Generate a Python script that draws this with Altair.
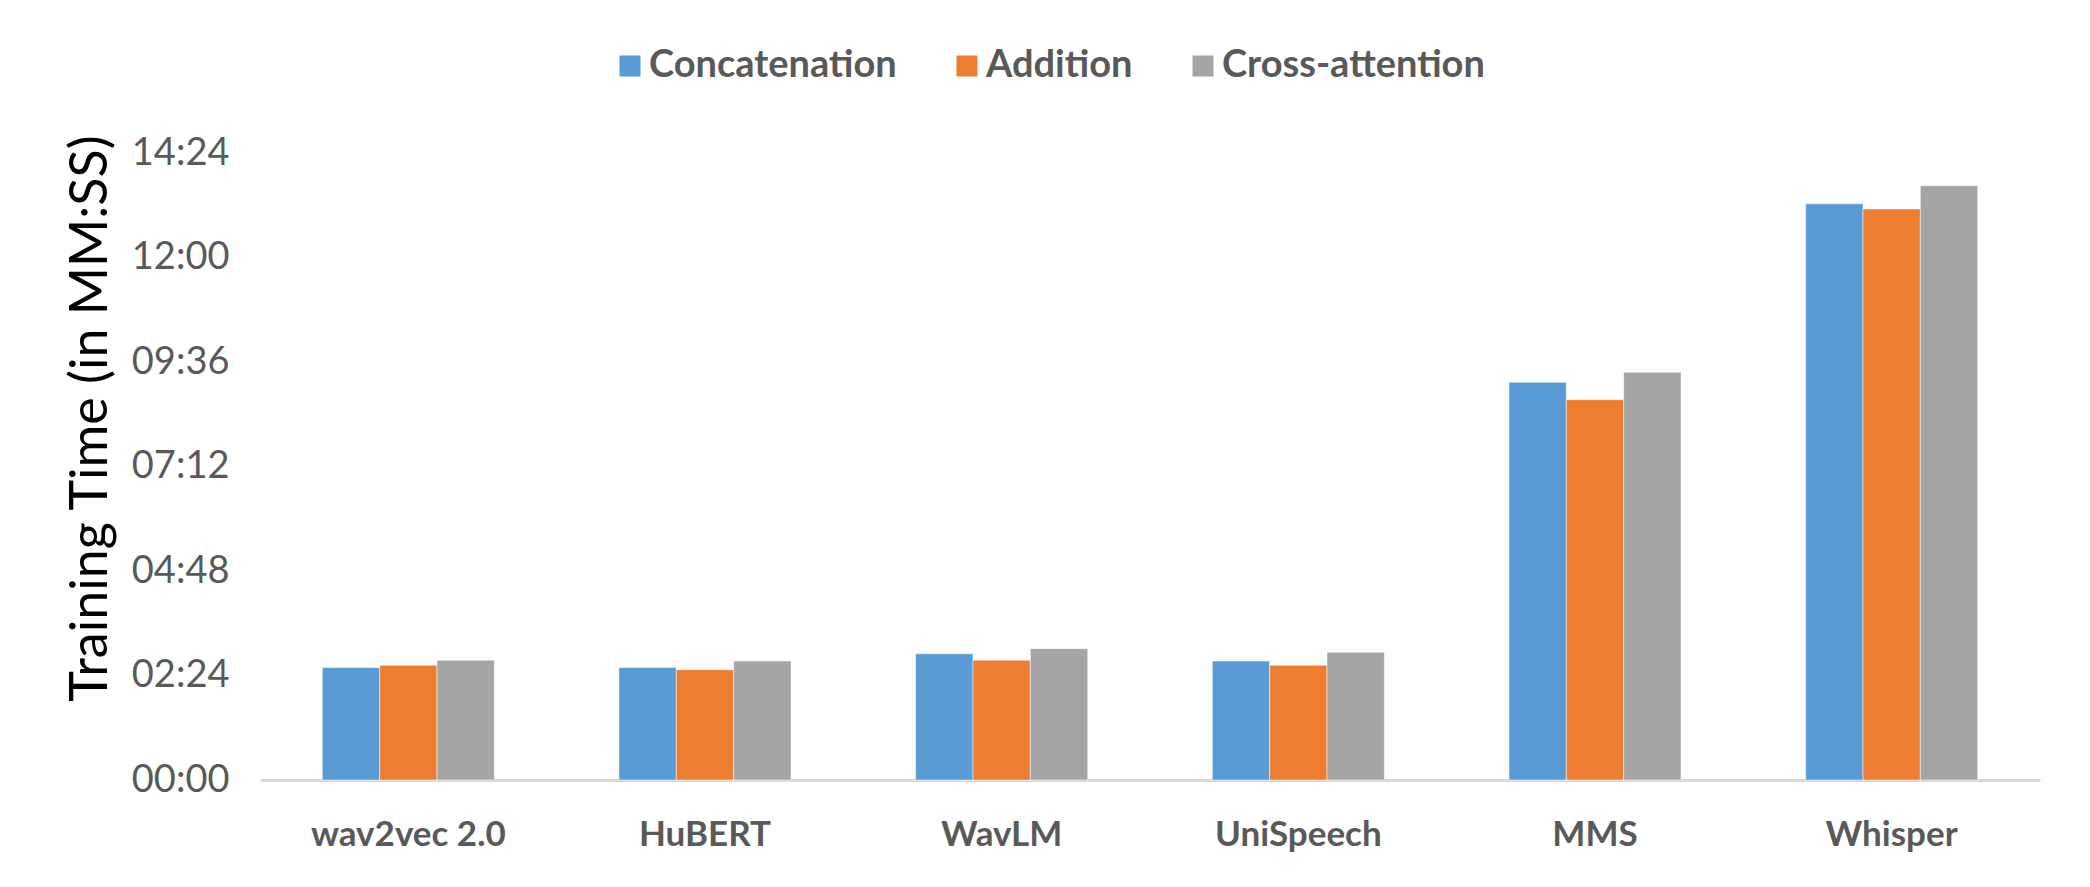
import altair as alt
import pandas as pd

models = ["wav2vec 2.0", "HuBERT", "WavLM", "UniSpeech", "MMS", "Whisper"]
methods = ["Concatenation", "Addition", "Cross-attention"]
# training time in seconds
concat = [155, 155, 174, 164, 548, 794]
addition = [158, 152, 165, 158, 524, 787]
cross = [165, 164, 181, 176, 562, 819]
colors = ["#5B9BD5", "#ED7D31", "#A5A5A5"]
y_ticks = [0, 144, 288, 432, 576, 720, 864]

rows = []
for i, m in enumerate(models):
    for meth, vals in zip(methods, [concat, addition, cross]):
        rows.append({"model": m, "method": meth, "seconds": vals[i]})
df = pd.DataFrame(rows)

FONT = "Lato"
TXT = "#595959"

label_expr = (
    "(floor(datum.value/60) < 10 ? '0' : '') + floor(datum.value/60) + ':' + "
    "((datum.value % 60) < 10 ? '0' : '') + (datum.value % 60)"
)

chart = (
    alt.Chart(df)
    .mark_bar(stroke="white", strokeWidth=0.5)
    .encode(
        x=alt.X(
            "model:N",
            sort=models,
            scale=alt.Scale(paddingInner=0.42, paddingOuter=0.21),
            axis=alt.Axis(
                title=None,
                labelAngle=0,
                labelFont=FONT,
                labelFontSize=35,
                labelFontWeight="bold",
                labelColor=TXT,
                labelPadding=37,
                labelLimit=0,
                ticks=False,
                domainColor="#D9D9D9",
                domainWidth=3,
                grid=False,
            ),
        ),
        xOffset=alt.XOffset("method:N", sort=methods, scale=alt.Scale(paddingInner=0)),
        y=alt.Y(
            "seconds:Q",
            scale=alt.Scale(domain=[0, 864], nice=False),
            axis=alt.Axis(
                title="Training Time (in MM:SS)",
                titleFont=FONT,
                titleFontSize=52,
                titleFontWeight="normal",
                titleColor="#000000",
                titleAngle=-90,
                titleAlign="center",
                titleBaseline="middle",
                titleX=-170,
                titleY=265,
                values=y_ticks,
                labelExpr=label_expr,
                labelFont=FONT,
                labelFontSize=38,
                labelColor=TXT,
                labelPadding=31,
                labelLimit=0,
                ticks=False,
                domain=False,
                grid=False,
            ),
        ),
        color=alt.Color(
            "method:N",
            sort=methods,
            scale=alt.Scale(domain=methods, range=colors),
            legend=alt.Legend(
                title=None,
                orient="none",
                direction="horizontal",
                legendX=351,
                legendY=-106,
                symbolType="square",
                symbolSize=441,
                symbolStrokeWidth=0,
                labelFont=FONT,
                labelFontSize=38,
                labelFontWeight="bold",
                labelColor=TXT,
                labelOffset=0,
                labelLimit=0,
                columnPadding=51,
            ),
        ),
    )
    .properties(
        width=1780,
        height=627,
        background="white",
        padding={"left": 252, "top": 145, "right": 30, "bottom": 90},
        autosize=alt.AutoSizeParams(type="none"),
    )
    .configure_view(strokeWidth=0, stroke="transparent")
)

chart.save("out.html", embed_options={"renderer": "svg", "actions": False})
